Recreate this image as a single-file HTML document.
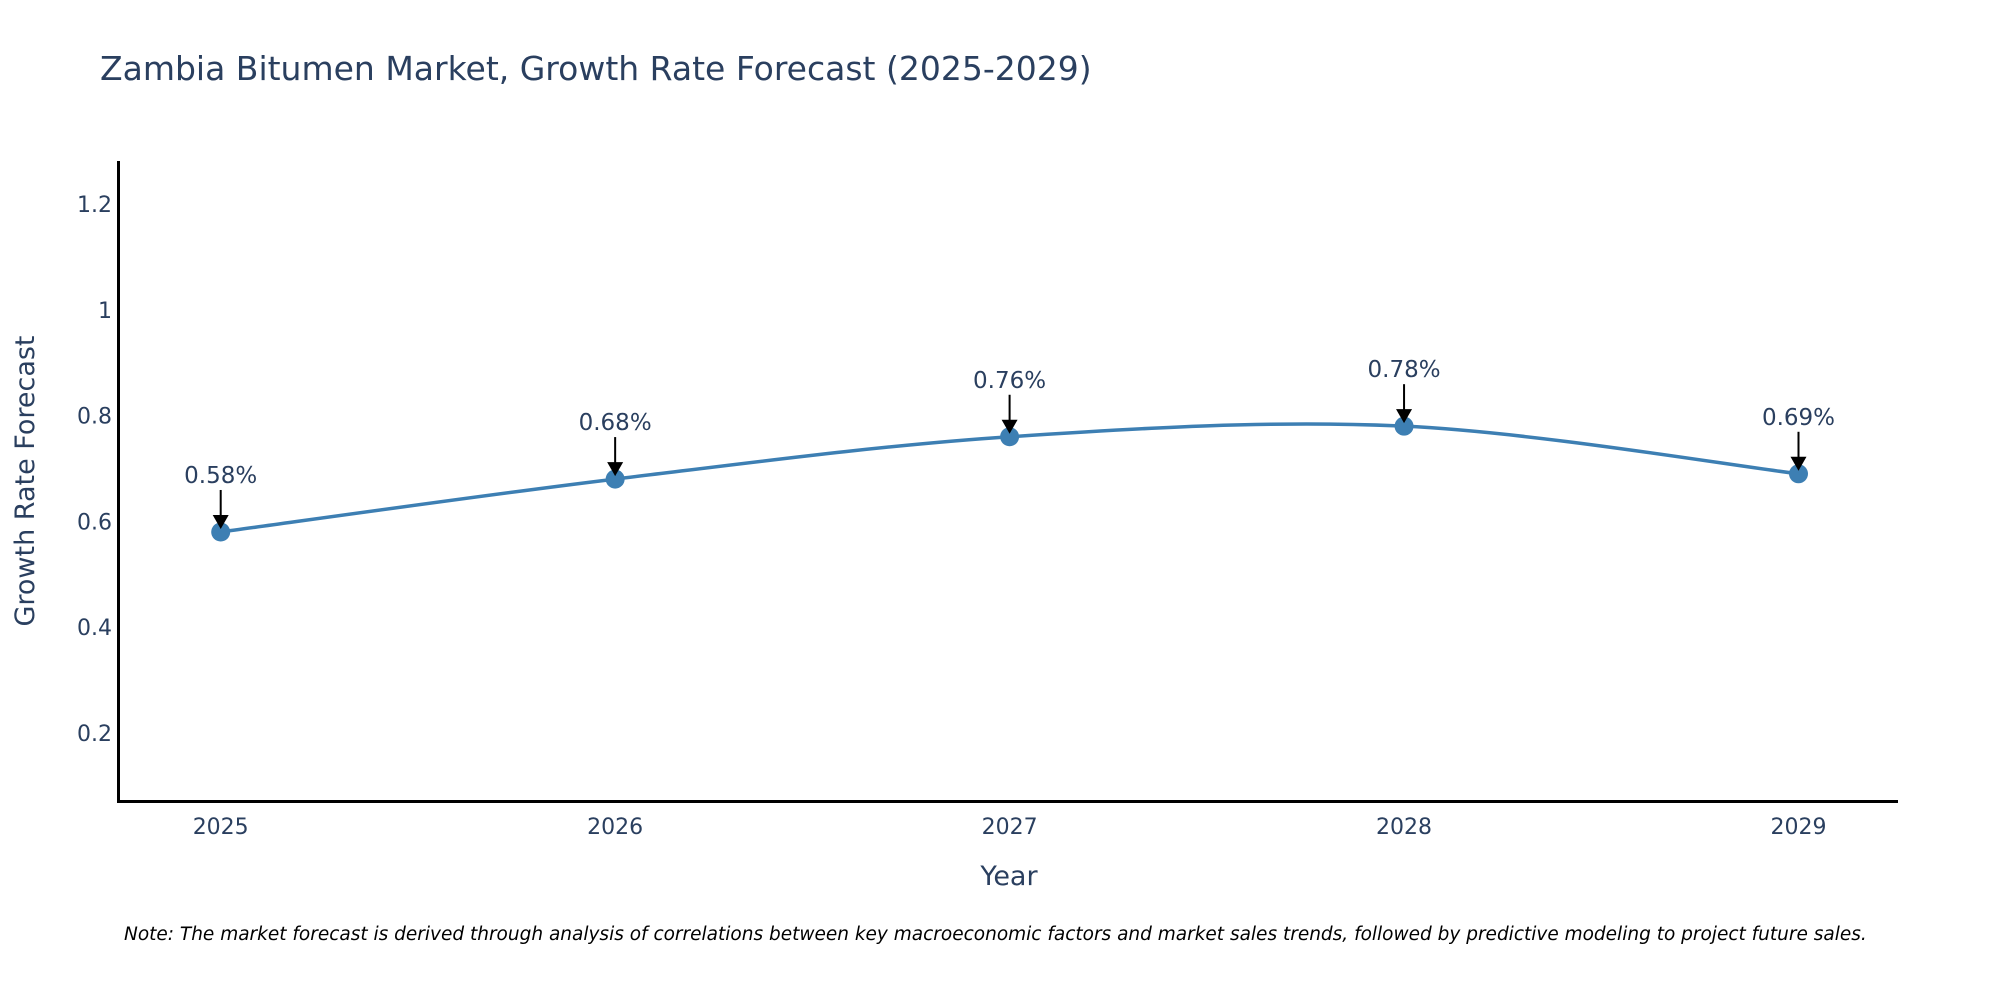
<!DOCTYPE html>
<html><head><meta charset="utf-8"><style>
body{margin:0;background:#fff;overflow:hidden;}
svg{display:block;font-family:"DejaVu Sans","Liberation Sans",sans-serif;}
</style></head><body>
<svg id="chart" width="2000" height="1000" viewBox="0 0 2000 1000">
<text x="100" y="80" font-size="33" fill="#2a3f5f">Zambia Bitumen Market, Growth Rate Forecast (2025-2029)</text>
<g id="yticks"></g>
<g id="xticks"></g>
<line x1="118.5" y1="161" x2="118.5" y2="802" stroke="#000" stroke-width="3"/>
<line x1="117" y1="801.5" x2="1898" y2="801.5" stroke="#000" stroke-width="3"/>
<text transform="translate(34,481) rotate(-90)" text-anchor="middle" font-size="27" fill="#2a3f5f">Growth Rate Forecast</text>
<text x="1009" y="885" text-anchor="middle" font-size="27" fill="#2a3f5f">Year</text>
<g id="series"></g>
<g id="annots"></g>
<text x="124" y="940" font-size="18.5" font-style="italic" fill="#000">Note: The market forecast is derived through analysis of correlations between key macroeconomic factors and market sales trends, followed by predictive modeling to project future sales.</text>
</svg>
<script>
const years = [2025, 2026, 2027, 2028, 2029];
const growth = [0.58, 0.68, 0.76, 0.78, 0.69];
const yTickValues = [0.2, 0.4, 0.6, 0.8, 1, 1.2];
const yTickLabels = ["0.2", "0.4", "0.6", "0.8", "1", "1.2"];
const valueLabels = ["0.58%", "0.68%", "0.76%", "0.78%", "0.69%"];

const NS = "http://www.w3.org/2000/svg";
function xScale(yr){ return 220.7 + (yr - 2025) * 394.45; }
function yScale(v){ return 733 - (v - 0.2) * 529; }
function mk(tag, attrs, parent){ const e=document.createElementNS(NS,tag); for(const k in attrs) e.setAttribute(k,attrs[k]); parent.appendChild(e); return e; }

const yt=document.getElementById('yticks');
yTickValues.forEach((v,i)=>{
  const t=mk('text',{x:112,y:yScale(v)+8,'text-anchor':'end','font-size':22,fill:'#2a3f5f'},yt);
  
  
  t.textContent=yTickLabels[i];
});
const xt=document.getElementById('xticks');
years.forEach(yr=>{
  const t=mk('text',{x:xScale(yr),y:834,'text-anchor':'middle','font-size':22,fill:'#2a3f5f'},xt);
  
  
  t.textContent=String(yr);
});

const pts=years.map((yr,i)=>[xScale(yr),yScale(growth[i])]);
let d='M'+pts[0][0]+','+pts[0][1];
const s=1/6;
for(let i=0;i<pts.length-1;i++){
  const p0=pts[Math.max(0,i-1)],p1=pts[i],p2=pts[i+1],p3=pts[Math.min(pts.length-1,i+2)];
  const c1=[p1[0]+(p2[0]-p0[0])*s,p1[1]+(p2[1]-p0[1])*s];
  const c2=[p2[0]-(p3[0]-p1[0])*s,p2[1]-(p3[1]-p1[1])*s];
  d+=' C'+c1[0]+','+c1[1]+' '+c2[0]+','+c2[1]+' '+p2[0]+','+p2[1];
}
const ser=document.getElementById('series');
const line=mk('path',{d:d,fill:'none',stroke:'#3d7fb3','stroke-width':3.5},ser);


pts.forEach(p=>{
  const c=mk('circle',{cx:p[0],cy:p[1],r:9.5,fill:'#3d7fb3'},ser);
  
  
});

const an=document.getElementById('annots');
pts.forEach((p,i)=>{
  const l=mk('line',{x1:p[0],y1:p[1]-42,x2:p[0],y2:p[1]-14,stroke:'#000','stroke-width':2},an);
  
  
  const h=mk('polygon',{points:(p[0]-8)+','+(p[1]-17)+' '+(p[0]+8)+','+(p[1]-17)+' '+p[0]+','+(p[1]-3),fill:'#000'},an);
  
  
  const t=mk('text',{x:p[0],y:p[1]-49,'text-anchor':'middle','font-size':23,fill:'#2a3f5f'},an);
  
  
  t.textContent=valueLabels[i];
});
</script>
</body></html>
